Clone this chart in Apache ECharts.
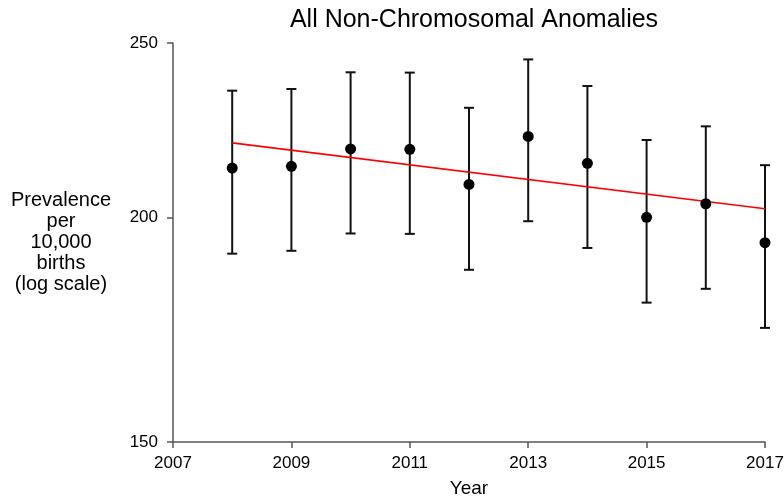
<!DOCTYPE html>
<html>
<head>
<meta charset="utf-8">
<script src="https://cdn.jsdelivr.net/npm/echarts@6/dist/echarts.min.js"></script>
<style>html,body{margin:0;padding:0;background:#fff}#c{width:784px;height:497px}</style>
</head>
<body>
<div id="c"></div>
<script>
const years = [2008, 2009, 2010, 2011, 2012, 2013, 2014, 2015, 2016, 2017];
const prevalence = [213.0, 213.5, 218.3, 218.2, 208.6, 221.8, 214.3, 200.0, 203.5, 193.6];
const upperCI = [235.2, 235.7, 240.8, 240.7, 230.1, 244.8, 236.6, 220.8, 224.7, 213.8];
const lowerCI = [190.9, 191.6, 195.9, 195.8, 187.0, 199.0, 192.3, 179.3, 182.5, 173.6];
const trendYears = [2008, 2017];
const trendValues = [220.0, 202.2];
const xTicks = [2007, 2009, 2011, 2013, 2015, 2017];
const yTicks = [150, 200, 250];

const font = 'Liberation Sans, Arial, sans-serif';
const chart = echarts.init(document.getElementById('c'));
chart.setOption({
  backgroundColor: '#fff',
  animation: false,
  title: {
    text: 'All Non-Chromosomal Anomalies',
    left: 469, top: 3, textAlign: 'center',
    textStyle: { fontFamily: font, fontSize: 25, fontWeight: 'normal', color: '#000' }
  },
  grid: { left: 173, right: 19, top: 43, bottom: 55, containLabel: false, outerBoundsMode: 'none' },
  xAxis: {
    type: 'value', min: 2007, max: 2017,
    name: 'Year', nameLocation: 'middle', nameGap: 37,
    nameTextStyle: { fontFamily: font, fontSize: 19, color: '#000' },
    axisLine: { show: true, lineStyle: { color: '#555', width: 1.5 } },
    axisTick: { show: true, length: 6, customValues: xTicks, lineStyle: { color: '#555', width: 1.5 } },
    axisLabel: { customValues: xTicks, formatter: v => String(v), fontFamily: font, fontSize: 17, color: '#000', margin: 13 },
    splitLine: { show: false }
  },
  yAxis: {
    type: 'log', logBase: 10, min: 150, max: 250,
    name: 'Prevalence\nper\n10,000\nbirths\n(log scale)',
    nameLocation: 'middle', nameRotate: 0, nameGap: 112,
    nameTextStyle: { fontFamily: font, fontSize: 20, color: '#000', lineHeight: 21, align: 'center', verticalAlign: 'middle' },
    axisLine: { show: true, lineStyle: { color: '#555', width: 1.5 } },
    axisTick: { show: true, length: 6, customValues: yTicks, lineStyle: { color: '#555', width: 1.5 } },
    axisLabel: { customValues: yTicks, fontFamily: font, fontSize: 17, color: '#000', margin: 15 },
    splitLine: { show: false }
  },
  series: [
    {
      type: 'custom',
      data: years.map((y, i) => [y, lowerCI[i], upperCI[i]]),
      renderItem: function (params, api) {
        const x = api.value(0);
        const lo = api.coord([x, api.value(1)]);
        const hi = api.coord([x, api.value(2)]);
        const hw = 5;
        const style = { stroke: '#111', lineWidth: 2 };
        return {
          type: 'group',
          children: [
            { type: 'line', shape: { x1: lo[0], y1: lo[1], x2: hi[0], y2: hi[1] }, style: style },
            { type: 'line', shape: { x1: hi[0] - hw, y1: hi[1], x2: hi[0] + hw, y2: hi[1] }, style: style },
            { type: 'line', shape: { x1: lo[0] - hw, y1: lo[1], x2: lo[0] + hw, y2: lo[1] }, style: style }
          ]
        };
      },
      z: 2
    },
    {
      type: 'line',
      data: trendYears.map((y, i) => [y, trendValues[i]]),
      symbol: 'none',
      lineStyle: { color: '#ff0000', width: 1.6 },
      z: 3
    },
    {
      type: 'scatter',
      data: years.map((y, i) => [y, prevalence[i]]),
      symbol: 'circle', symbolSize: 11,
      itemStyle: { color: '#000', opacity: 1 },
      z: 4
    }
  ]
});
</script>
</body>
</html>
